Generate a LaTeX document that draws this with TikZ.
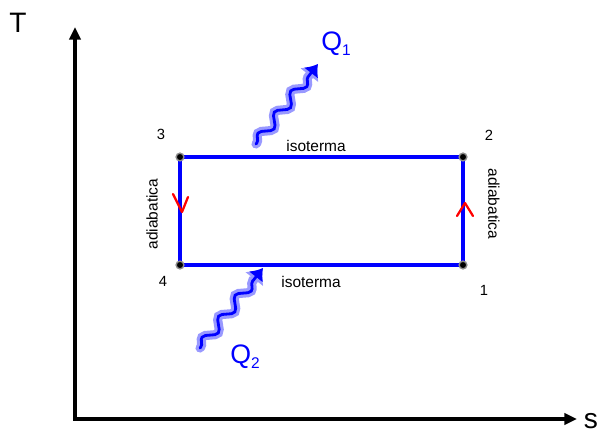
\documentclass[tikz,border=0pt]{standalone}
\usepackage{fontspec}
\setmainfont{Liberation Sans}
\usetikzlibrary{arrows.meta, decorations.pathmorphing}

\begin{document}
\begin{tikzpicture}[
    x=0.025cm, y=-0.025cm,
    axis/.style={line width=2.8pt, -{Triangle[length=9pt, width=8pt]}},
    cyclepath/.style={blue, line width=2.3pt},
    corner/.style={circle, fill=black, draw=black!45, line width=1pt, inner sep=0pt, minimum size=5.5pt},
    lbl/.style={font=\fontsize{11}{13}\selectfont},
    num/.style={font=\fontsize{10.5}{12}\selectfont},
    big/.style={font=\fontsize{20}{24}\selectfont},
    heatlbl/.style={blue, font=\fontsize{19}{22}\selectfont},
    wave/.style={decorate, decoration={snake, amplitude=3.6pt, segment length=19pt, pre length=1pt, post length=9pt}},
    halo/.style={wave, blue!40, line width=6.5pt, line cap=round, -{Latex[length=10pt, width=17pt]}},
    heat/.style={wave, blue, line width=2pt, line cap=round, -{Latex[length=8pt, width=13pt]}},
    dirmark/.style={red, line width=1.6pt, line cap=round, line join=round}
]
\useasboundingbox (0,0) rectangle (599,437);

% axes
\coordinate (o) at (75,419);
\coordinate (ttip) at (75,27);
\coordinate (stip) at (577,419);
\draw[axis] (o) -- (ttip);
\draw[axis] ([xshift=-1.4pt]o) -- (stip);
\node[big] (tlab) at (18,23) {T};
\node[big] (slab) at (591,421) {s};

% cycle
\coordinate (p1) at (463,265);
\coordinate (p2) at (463,157);
\coordinate (p3) at (180,157);
\coordinate (p4) at (180,265);
\draw[cyclepath] (p1) -- (p2) -- (p3) -- (p4) -- cycle;
\node[corner] (d1) at (p1) {};
\node[corner] (d2) at (p2) {};
\node[corner] (d3) at (p3) {};
\node[corner] (d4) at (p4) {};

\node[num] (n1) at (484,290) {1};
\node[num] (n2) at (489,135) {2};
\node[num] (n3) at (161,134) {3};
\node[num] (n4) at (163,281) {4};

\node[lbl] (isoa) at (316,146) {isoterma};
\node[lbl] (isob) at (311,282) {isoterma};
\node[lbl, rotate=90] (adia) at (152,214) {adiabatica};
\node[lbl, rotate=-90] (adib) at (494,204) {adiabatica};

% direction marks
\draw[dirmark] (173,194) -- (182,212) -- (188,197);
\draw[dirmark] (457,216) -- (465,203) -- (473,216);

% heat
\coordinate (q1s) at (256,144);
\coordinate (q1e) at (318,64);
\coordinate (q2s) at (200,348);
\coordinate (q2e) at (263,268);
\draw[halo] (q1s) -- (q1e);
\draw[heat] (q1s) -- (q1e);
\draw[halo] (q2s) -- (q2e);
\draw[heat] (q2s) -- (q2e);
\node[heatlbl] (qa) at (336,44) {Q\raisebox{-0.35ex}{\fontsize{11}{12}\selectfont 1}};
\node[heatlbl] (qb) at (245,357) {Q\raisebox{-0.35ex}{\fontsize{11}{12}\selectfont 2}};
\end{tikzpicture}
\end{document}
